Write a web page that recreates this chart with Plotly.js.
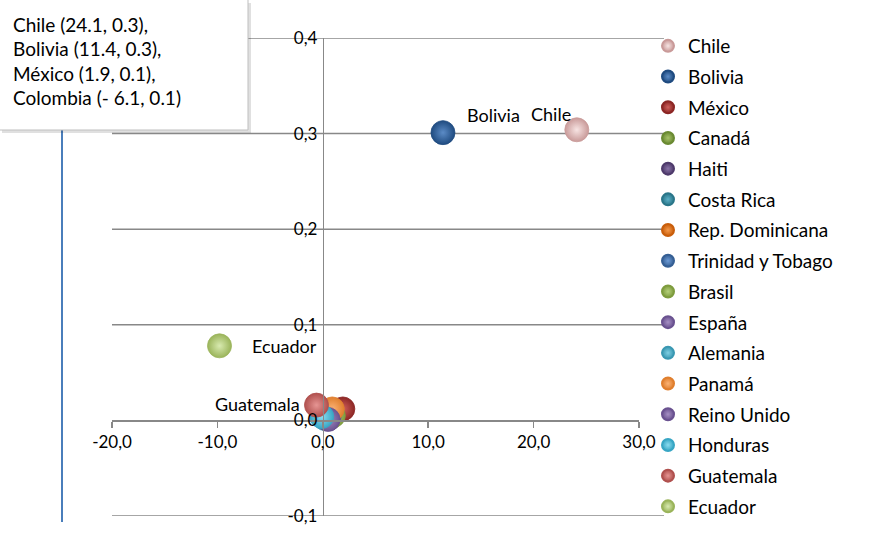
<!DOCTYPE html>
<html>
<head>
<meta charset="utf-8">
<script src="https://cdn.plot.ly/plotly-3.0.1.min.js"></script>
<style>html,body{margin:0;padding:0;background:#fff;}#chart{width:890px;height:554px;}</style>
</head>
<body>
<div id="chart"></div>
<script>
// Data
const countries = ["Chile","Bolivia","México","Canadá","Haiti","Costa Rica","Rep. Dominicana","Trinidad y Tobago","Brasil","España","Alemania","Panamá","Reino Unido","Honduras","Guatemala","Ecuador"];
const xValues = [24.1, 11.4, 1.9, 0.9, 0.6, 0.4, 0.7, 0.5, 1.0, 0.6, 0.2, 0.9, 0.5, -0.1, -0.6, -9.8];
const yValues = [0.304, 0.301, 0.012, 0.006, 0.002, 0.003, 0.010, 0.004, 0.005, 0.004, 0.002, 0.012, 0.001, 0.004, 0.016, 0.078];
const pointLabels = ["Chile","Bolivia","","","","","","","","","","","","","Guatemala","Ecuador"];
const noteLines = ["Chile (24.1, 0.3),","Bolivia (11.4, 0.3),","México (1.9, 0.1),","Colombia (- 6.1, 0.1)"];
const xTicks = [-20, -10, 0, 10, 20, 30];
const xTickLabels = ["-20,0","-10,0","0,0","10,0","20,0","30,0"];
const yTicks = [-0.1, 0, 0.1, 0.2, 0.3, 0.4];
const yTickLabels = ["-0,1","0,0","0,1","0,2","0,3","0,4"];
const gridValues = [-0.1, 0.1, 0.2, 0.3, 0.4];

// Styles
const edgeColors = ["#c99a99","#1f4b80","#8c2624","#6a8a32","#4e3a6b","#2a7689","#c95e0b","#355f94","#7e9c3e","#6a5290","#3a98b2","#e07f2e","#6a5290","#38a6c4","#b0504e","#9ab45a"];
const centerColors = ["#f7e4e3","#5b8bc6","#d0605c","#a8c36a","#8a74a8","#5cb0c7","#f5994a","#6d9bd6","#b5d07a","#a690c4","#7fcfe3","#fbb274","#a690c4","#8adcf0","#e69593","#d8eab0"];
// label placement: [xanchor, xshift, yshift]
const labelPlacement = {
  "Chile": ["right", -4, 16],
  "Bolivia": ["left", 22, 18],
  "Guatemala": ["right", -14, 1],
  "Ecuador": ["left", 30, 0]
};

const FONT = "Lato, 'Open Sans', sans-serif";

const traces = countries.map((c, i) => ({
  type: "scatter",
  mode: "markers",
  name: c,
  legendgroup: "g" + i,
  x: [xValues[i]],
  y: [yValues[i]],
  cliponaxis: false,
  marker: {
    size: 24,
    color: edgeColors[i],
    gradient: {type: "radial", color: centerColors[i]},
    line: {width: 0.8, color: edgeColors[i]}
  },
  hoverinfo: "name+x+y"
}));

// pixel helpers for paper coords (plot domain 112..639 x, 38..516 y)
const L = 112, R = 639, T = 38, B = 516;
const px = v => (v - L) / (R - L);
const py = v => (B - v) / (B - T);

const shapes = [];
gridValues.forEach(g => shapes.push({
  type: "line", xref: "paper", yref: "y", x0: 0, x1: px(664), y0: g, y1: g,
  line: {color: "#888888", width: 1.5}, layer: "below"
}));
// blue vertical line
shapes.push({type: "line", xref: "paper", yref: "paper", x0: px(62), x1: px(62), y0: py(522), y1: py(120),
  line: {color: "#4a7ebb", width: 2}, layer: "above"});
// text box shadow + box
shapes.push({type: "rect", xref: "paper", yref: "paper", x0: px(2), x1: px(251), y0: py(133), y1: py(3),
  fillcolor: "rgba(0,0,0,0.12)", line: {width: 0}, layer: "above"});
shapes.push({type: "rect", xref: "paper", yref: "paper", x0: px(-2), x1: px(248), y0: py(130), y1: py(-2),
  fillcolor: "#ffffff", line: {color: "#bfbfbf", width: 1}, layer: "above"});

const annotations = noteLines.map((t, i) => ({
  xref: "paper", yref: "paper", x: px(11), y: py(24 + i * 24.6),
  xanchor: "left", yanchor: "middle", text: t, showarrow: false,
  font: {family: FONT, size: 19, color: "#000"}
}));
countries.forEach((c, i) => {
  if (!pointLabels[i]) return;
  const p = labelPlacement[pointLabels[i]];
  annotations.push({
    xref: "x", yref: "y", x: xValues[i], y: yValues[i],
    text: pointLabels[i], showarrow: false,
    xanchor: p[0], yanchor: "middle", xshift: p[1], yshift: p[2],
    font: {family: FONT, size: 18, color: "#000"}
  });
});

const layout = {
  width: 890, height: 554,
  margin: {l: L, r: 890 - R, t: T, b: 554 - B, pad: 0},
  paper_bgcolor: "#fff", plot_bgcolor: "rgba(0,0,0,0)",
  separators: ",.",
  font: {family: FONT, size: 15, color: "#000"},
  showlegend: true,
  legend: {
    x: px(648), y: py(27), xanchor: "left", yanchor: "top",
    font: {family: FONT, size: 19, color: "#000"},
    itemsizing: "constant", tracegroupgap: 3, bgcolor: "rgba(0,0,0,0)",
    maxheight: 540
  },
  xaxis: {
    range: [-20, 30], tickvals: xTicks, ticktext: xTickLabels,
    showgrid: false, zeroline: false,
    showline: true, linecolor: "#888888", linewidth: 1.5,
    ticks: "outside", ticklen: 6, tickcolor: "#888888", tickwidth: 1.5,
    anchor: "free", position: (0 - (-0.1)) / 0.5,
    tickfont: {family: FONT, size: 17, color: "#000"}
  },
  yaxis: {
    range: [-0.1, 0.4], tickvals: yTicks, ticktext: yTickLabels,
    showgrid: false, zeroline: false,
    showline: true, linecolor: "#888888", linewidth: 1.5,
    ticks: "", anchor: "free", position: (0 - (-20)) / 50,
    ticklabelstandoff: 2,
    tickfont: {family: FONT, size: 17, color: "#000"}
  },
  shapes: shapes,
  annotations: annotations
};

Plotly.newPlot("chart", traces, layout, {displayModeBar: false, staticPlot: true});
</script>
</body>
</html>
